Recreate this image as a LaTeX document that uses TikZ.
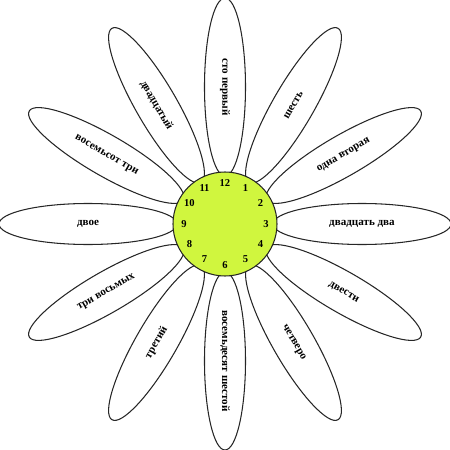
\documentclass[tikz,border=0pt]{standalone}
\usepackage{fontspec}
\setmainfont{Liberation Serif}
\usetikzlibrary{shapes.geometric,positioning}
\definecolor{discgreen}{RGB}{208,246,62}

\begin{document}
\begin{tikzpicture}[petal/.style={draw=black!85,line width=0.6pt,ellipse,inner sep=0pt,% petal outline only
        minimum width=3.56cm,minimum height=0.82cm,font=\fontsize{6.3}{7}\selectfont\bfseries},
        hour/.style={font=\fontsize{6}{7}\selectfont\bfseries,inner sep=0pt}]
\useasboundingbox (-4.50,-4.52) rectangle (4.50,4.48); % same margins as the picture
\foreach[count=\xi] \a/\r/\t in {90/-90/сто первый,60/60/шесть,30/30/одна вторая,0/0/двадцать два,%
        -30/-30/двести,-60/-60/четверо,-90/-90/восемьдесят шестой,-120/60/третий,%
        -150/30/три восьмых,180/0/двое,150/-30/восемьсот три,120/-60/двадцатый}{ %\a is the direction, \r turns the text
\node[petal,rotate=\r] (petal-\xi) at (\a:2.74) {\t};
 }
\node[circle,draw=black!85,line width=0.6pt,fill=discgreen,minimum size=2.08cm] (disc) at (0,0) {};
\foreach \h in {1,...,12}{ % the clock face, around the disc
\node[hour] (h-\h) at ({90-30*\h}:0.82) {\h};
 }
\end{tikzpicture}
\end{document}
